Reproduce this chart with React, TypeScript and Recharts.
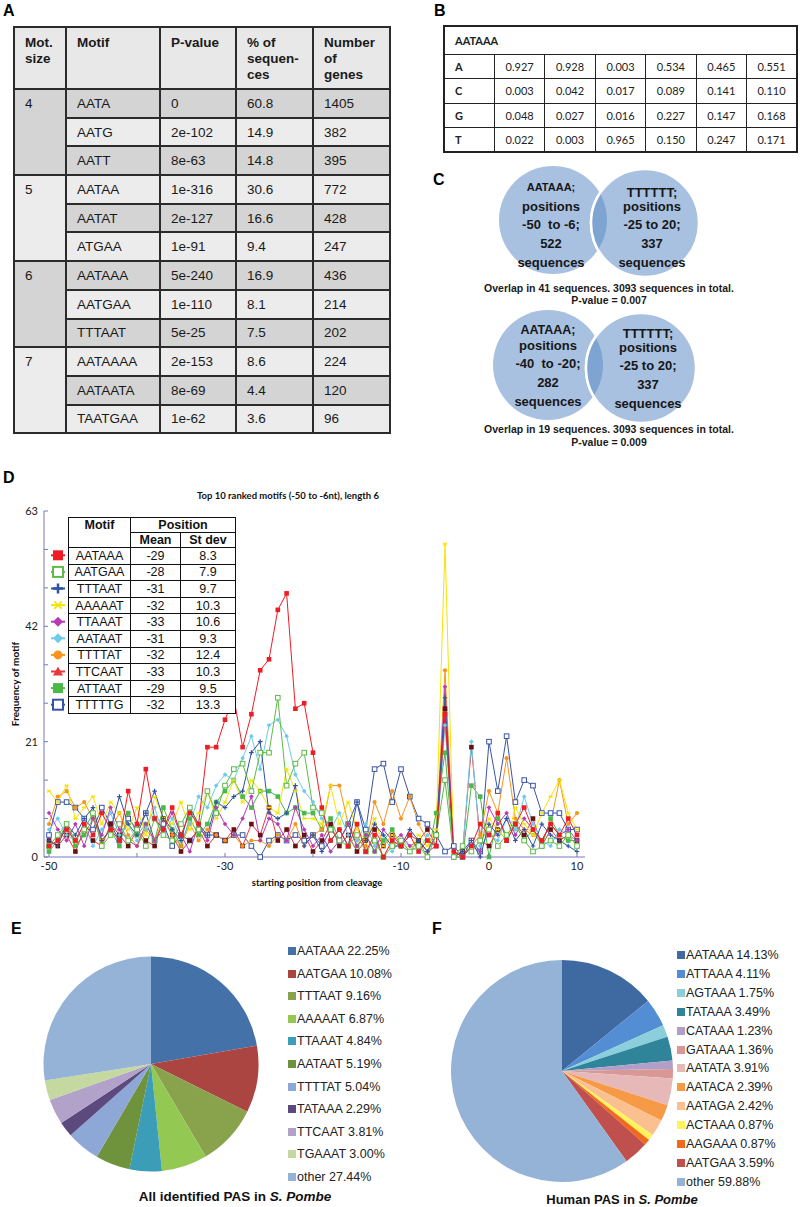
import React from 'react';
import { LineChart, Line, XAxis, YAxis, PieChart, Pie, Cell } from 'recharts';

const ARIAL = '"Liberation Sans", Arial, sans-serif';
const CALIBRI = 'Lato, "Open Sans", sans-serif';
const AXIS = '#7878b8';

// ---------- Panel A: enriched motifs
const motifSizes = ['4', '5', '6', '7'];
const motifs = ['AATA', 'AATG', 'AATT', 'AATAA', 'AATAT', 'ATGAA', 'AATAAA', 'AATGAA', 'TTTAAT', 'AATAAAA', 'AATAATA', 'TAATGAA'];
const pValues = ['0', '2e-102', '8e-63', '1e-316', '2e-127', '1e-91', '5e-240', '1e-110', '5e-25', '2e-153', '8e-69', '1e-62'];
const pctSequences = ['60.8', '14.9', '14.8', '30.6', '16.6', '9.4', '16.9', '8.1', '7.5', '8.6', '4.4', '3.6'];
const geneCounts = ['1405', '382', '395', '772', '428', '247', '436', '214', '202', '224', '120', '96'];

// ---------- Panel B: AATAAA position weight matrix
const pwmMotif = 'AATAAA';
const bases = ['A', 'C', 'G', 'T'];
const pwmA = ['0.927', '0.928', '0.003', '0.534', '0.465', '0.551'];
const pwmC = ['0.003', '0.042', '0.017', '0.089', '0.141', '0.110'];
const pwmG = ['0.048', '0.027', '0.016', '0.227', '0.147', '0.168'];
const pwmT = ['0.022', '0.003', '0.965', '0.150', '0.247', '0.171'];
const pwmRows = [pwmA, pwmC, pwmG, pwmT];

// ---------- Panel C: overlaps
const venn1Left = ['AATAAA;', 'positions', '-50  to -6;', '522', 'sequences'];
const venn1Right = ['TTTTTT;', 'positions', '-25 to 20;', '337', 'sequences'];
const venn1Caption = ['Overlap in 41 sequences. 3093 sequences in total.', 'P-value = 0.007'];
const venn2Left = ['AATAAA;', 'positions', '-40  to -20;', '282', 'sequences'];
const venn2Right = ['TTTTTT;', 'positions', '-25 to 20;', '337', 'sequences'];
const venn2Caption = ['Overlap in 19 sequences. 3093 sequences in total.', 'P-value = 0.009'];

// ---------- Panel D: motif frequency by position
const positions = [
  -50, -49, -48, -47, -46, -45, -44, -43, -42, -41,
  -40, -39, -38, -37, -36, -35, -34, -33, -32, -31,
  -30, -29, -28, -27, -26, -25, -24, -23, -22, -21,
  -20, -19, -18, -17, -16, -15, -14, -13, -12, -11,
  -10, -9, -8, -7, -6, -5, -4, -3, -2, -1,
  0, 1, 2, 3, 4, 5, 6, 7, 8, 9, 10,
];
const aataaa = [
  2, 3, 5, 3, 6, 4, 8, 5, 3, 12,
  6, 16, 7, 5, 9, 4, 8, 6, 20, 20,
  25, 29, 20, 26, 34, 36, 45, 48, 27, 28,
  19, 9, 3, 5, 2, 6, 1, 4, 0, 3,
  2, 4, 1, 3, 2, 26, 1, 0, 2, 6,
  4, 8, 3, 6, 9, 5, 3, 6, 4, 7, 4,
];
const aatgaa = [
  2, 4, 6, 3, 5, 8, 2, 4, 6, 3,
  5, 2, 7, 4, 3, 6, 9, 5, 12, 8,
  13, 16, 17, 12, 19, 19, 29, 13, 17, 19,
  9, 8, 5, 3, 2, 4, 1, 3, 0, 2,
  3, 1, 2, 0, 4, 14, 0, 2, 1, 3,
  5, 2, 4, 6, 3, 1, 2, 3, 2, 4, 2,
];
const tttaat = [
  3, 2, 6, 4, 7, 9, 3, 5, 11, 6,
  4, 8, 12, 7, 5, 3, 9, 6, 4, 10,
  9, 11, 12, 19, 21, 8, 7, 8, 13, 2,
  4, 1, 3, 5, 2, 10, 3, 6, 4, 2,
  2, 5, 3, 1, 4, 29, 0, 1, 3, 0,
  6, 4, 7, 3, 5, 2, 6, 4, 3, 2, 1,
];
const aaaaat = [
  12, 10, 13, 7, 9, 11, 6, 10, 8, 5,
  9, 4, 11, 7, 6, 10, 5, 8, 12, 7,
  10, 14, 10, 14, 12, 9, 8, 16, 12, 7,
  7, 6, 13, 6, 10, 5, 3, 7, 2, 4,
  3, 1, 4, 2, 5, 57, 0, 2, 1, 3,
  7, 5, 3, 9, 6, 4, 8, 11, 14, 8, 5,
];
const ttaaat = [
  8, 5, 3, 6, 2, 7, 4, 9, 5, 3,
  2, 6, 3, 5, 8, 4, 1, 6, 3, 9,
  6, 4, 7, 11, 3, 7, 6, 3, 9, 5,
  2, 4, 1, 3, 6, 2, 4, 1, 5, 3,
  4, 2, 3, 1, 2, 31, 1, 0, 2, 1,
  9, 6, 8, 4, 7, 5, 3, 6, 4, 5, 3,
];
const aataat = [
  5, 7, 4, 3, 6, 2, 5, 8, 4, 6,
  3, 5, 9, 4, 7, 3, 6, 11, 9, 13,
  15, 14, 18, 22, 16, 24, 25, 22, 15, 12,
  10, 7, 5, 8, 4, 3, 6, 2, 4, 1,
  3, 2, 1, 4, 2, 24, 0, 1, 21, 2,
  4, 3, 7, 5, 11, 6, 3, 2, 5, 4, 3,
];
const ttttat = [
  6, 11, 12, 9, 10, 7, 3, 5, 8, 4,
  2, 5, 3, 7, 4, 2, 6, 3, 5, 4,
  3, 4, 2, 3, 3, 2, 4, 3, 6, 2,
  4, 5, 13, 13, 6, 3, 2, 10, 6, 12,
  7, 11, 6, 3, 4, 34, 1, 0, 2, 4,
  12, 8, 18, 7, 5, 4, 3, 6, 14, 6, 8,
];
const ttcaat = [
  3, 2, 4, 1, 5, 3, 2, 6, 4, 2,
  5, 3, 2, 7, 4, 1, 3, 5, 2, 4,
  3, 5, 2, 6, 4, 9, 3, 5, 2, 4,
  1, 3, 6, 2, 4, 1, 3, 5, 2, 4,
  2, 4, 3, 5, 2, 27, 0, 1, 20, 3,
  2, 5, 3, 6, 4, 7, 2, 5, 3, 4, 3,
];
const attaat = [
  1, 3, 6, 2, 4, 7, 3, 5, 2, 8,
  4, 6, 3, 9, 5, 2, 7, 4, 6, 10,
  12, 14, 11, 9, 12, 12, 11, 8, 9, 8,
  8, 5, 7, 3, 6, 2, 4, 1, 3, 5,
  2, 1, 3, 0, 8, 19, 0, 0, 13, 11,
  0, 7, 4, 6, 3, 5, 2, 7, 4, 3, 3,
];
const tttttg = [
  4, 10, 10, 9, 7, 5, 9, 6, 3, 7,
  5, 8, 3, 6, 2, 4, 3, 5, 4, 4,
  3, 4, 4, 2, 0, 3, 4, 3, 4, 3,
  4, 2, 5, 3, 6, 10, 5, 16, 17, 10,
  16, 11, 7, 6, 4, 1, 2, 0, 3, 1,
  21, 12, 22, 10, 14, 13, 8, 8, 8, 5, 5,
];
const motifNames = ['AATAAA', 'AATGAA', 'TTTAAT', 'AAAAAT', 'TTAAAT', 'AATAAT', 'TTTTAT', 'TTCAAT', 'ATTAAT', 'TTTTTG'];
const motifMeans = ['-29', '-28', '-31', '-32', '-33', '-31', '-32', '-33', '-29', '-32'];
const motifSd = ['8.3', '7.9', '9.7', '10.3', '10.6', '9.3', '12.4', '10.3', '9.5', '13.3'];
const motifValues = [aataaa, aatgaa, tttaat, aaaaat, ttaaat, aataat, ttttat, ttcaat, attaat, tttttg];
const xTicks = [-50, -40, -30, -20, -10, 0, 10];
const xTickLabels = [-50, -30, -10, 0, 10];
const yTicks = [0, 7, 14, 21, 28, 35, 42, 49, 56, 63];
const yTickLabels = [0, 21, 42, 63];

type MarkerKind = 'sqFill' | 'sqHollow' | 'plus' | 'star' | 'diamond' | 'circle' | 'tri';
const motifStyles: { color: string; marker: MarkerKind; dotColor?: string; legendMarker?: MarkerKind }[] = [
  { color: '#ee1c25', marker: 'sqFill' },
  { color: '#5fba46', marker: 'sqHollow' },
  { color: '#2f52a0', marker: 'plus' },
  { color: '#f5e400', marker: 'star' },
  { color: '#b83ab5', marker: 'diamond' },
  { color: '#6dcbea', marker: 'diamond' },
  { color: '#f7941d', marker: 'circle' },
  { color: '#e8383d', marker: 'sqFill', dotColor: '#6b1010', legendMarker: 'tri' },
  { color: '#4cb848', marker: 'sqFill' },
  { color: '#3953a4', marker: 'sqHollow' },
];

const chartRows = positions.map((pos, i) => {
  const row: Record<string, number> = { pos };
  motifNames.forEach((m, k) => { row[m] = motifValues[k][i]; });
  return row;
});

// ---------- Panels E and F: PAS shares
const pieELabels = ['AATAAA', 'AATGAA', 'TTTAAT', 'AAAAAT', 'TTAAAT', 'AATAAT', 'TTTTAT', 'TATAAA', 'TTCAAT', 'TGAAAT', 'other'];
const pieEValues = [22.25, 10.08, 9.16, 6.87, 4.84, 5.19, 5.04, 2.29, 3.81, 3.0, 27.44];
const pieEColors = ['#4571a9', '#ab4542', '#88a34c', '#93c953', '#3c9db8', '#6e933c', '#8da8d6', '#5c4a7e', '#b2a2ca', '#c5d8a0', '#95b3d7'];
const pieFLabels = ['AATAAA', 'ATTAAA', 'AGTAAA', 'TATAAA', 'CATAAA', 'GATAAA', 'AATATA', 'AATACA', 'AATAGA', 'ACTAAA', 'AAGAAA', 'AATGAA', 'other'];
const pieFValues = [14.13, 4.11, 1.75, 3.49, 1.23, 1.36, 3.91, 2.39, 2.42, 0.87, 0.87, 3.59, 59.88];
const pieFColors = ['#3e6aa1', '#538ed5', '#8ccfdc', '#2f8499', '#b09fc9', '#d99795', '#e6b8b7', '#f79a47', '#fac090', '#fdf35c', '#f2691e', '#c0504d', '#95b3d7'];

function Marker({ kind, cx, cy, r, color }: { kind: MarkerKind; cx: number; cy: number; r: number; color: string }) {
  switch (kind) {
    case 'sqFill':
      return <rect x={cx - r} y={cy - r} width={2 * r} height={2 * r} fill={color} />;
    case 'sqHollow':
      return <rect x={cx - r} y={cy - r} width={2 * r} height={2 * r} fill="#fff" stroke={color} strokeWidth={Math.max(1, r / 2.5)} />;
    case 'plus':
      return <path d={`M${cx - r},${cy}H${cx + r}M${cx},${cy - r}V${cy + r}`} stroke={color} strokeWidth={Math.max(1.2, r / 2)} />;
    case 'star': {
      const d = r * 0.75;
      return (
        <path
          d={`M${cx - r},${cy}H${cx + r}M${cx - d},${cy - d}L${cx + d},${cy + d}M${cx - d},${cy + d}L${cx + d},${cy - d}`}
          stroke={color}
          strokeWidth={Math.max(1, r / 3)}
        />
      );
    }
    case 'diamond':
      return <polygon points={`${cx},${cy - r} ${cx + r},${cy} ${cx},${cy + r} ${cx - r},${cy}`} fill={color} />;
    case 'circle':
      return <circle cx={cx} cy={cy} r={r * 0.9} fill={color} />;
    case 'tri':
      return <polygon points={`${cx},${cy - r} ${cx + r},${cy + r * 0.8} ${cx - r},${cy + r * 0.8}`} fill={color} />;
  }
  return null;
}

const makeDot = (k: number) => (props: any) => {
  const { cx, cy, index } = props;
  const st = motifStyles[k];
  if (cx == null || cy == null) return <g key={`${k}-${index}`} />;
  return <Marker key={`${k}-${index}`} kind={st.marker} cx={cx} cy={cy} r={2.3} color={st.dotColor ?? st.color} />;
};

const PLOT_LEFT = 44;
const PLOT_BOTTOM = 377;

function XTick(props: any) {
  const { x, y, payload } = props;
  return (
    <g>
      <line x1={x} x2={x} y1={PLOT_BOTTOM} y2={PLOT_BOTTOM - 4} stroke={AXIS} />
      {xTickLabels.includes(payload.value) && (
        <text x={x} y={y + 13} textAnchor="middle" fontSize={11} fontFamily={CALIBRI} fill="#222">
          {payload.value}
        </text>
      )}
    </g>
  );
}

function YTick(props: any) {
  const { y, payload } = props;
  return (
    <g>
      <line x1={PLOT_LEFT} x2={PLOT_LEFT + 4} y1={y} y2={y} stroke={AXIS} />
      {yTickLabels.includes(payload.value) && (
        <text x={PLOT_LEFT - 6} y={y + 4} textAnchor="end" fontSize={11} fontFamily={CALIBRI} fill="#222">
          {payload.value}
        </text>
      )}
    </g>
  );
}

const letterStyle: React.CSSProperties = { position: 'absolute', fontFamily: ARIAL, fontWeight: 'bold', fontSize: 16, lineHeight: '18px' };

function TableA() {
  const dark = '#d4d4d4';
  const light = '#ececec';
  const border = '2px solid #2b2b2b';
  const cell: React.CSSProperties = { border, padding: '0 0 0 10px', textAlign: 'left', verticalAlign: 'middle', whiteSpace: 'nowrap' };
  const head: React.CSSProperties = { ...cell, background: '#e8e8e8', verticalAlign: 'top', paddingTop: 7, lineHeight: '16px' };
  return (
    <table style={{ position: 'absolute', left: 13, top: 26, borderCollapse: 'collapse', tableLayout: 'fixed', width: 376, fontFamily: ARIAL, fontSize: 13.5, color: '#1a1a1a' }}>
      <colgroup>
        <col style={{ width: 52 }} />
        <col style={{ width: 94 }} />
        <col style={{ width: 76 }} />
        <col style={{ width: 77 }} />
        <col style={{ width: 77 }} />
      </colgroup>
      <tbody>
        <tr style={{ height: 62, fontWeight: 'bold' }}>
          <td style={head}>Mot.<br />size</td>
          <td style={head}>Motif</td>
          <td style={head}>P-value</td>
          <td style={head}>% of<br />sequen-<br />ces</td>
          <td style={head}>Number<br />of<br />genes</td>
        </tr>
        {motifs.map((m, i) => {
          const g = Math.floor(i / 3);
          const bg = i % 2 === 0 ? dark : light;
          return (
            <tr key={m} style={{ height: 28.7 }}>
              {i % 3 === 0 && (
                <td rowSpan={3} style={{ ...cell, verticalAlign: 'top', paddingTop: 6, background: g % 2 === 0 ? dark : light }}>
                  {motifSizes[g]}
                </td>
              )}
              <td style={{ ...cell, background: bg }}>{m}</td>
              <td style={{ ...cell, background: bg }}>{pValues[i]}</td>
              <td style={{ ...cell, background: bg }}>{pctSequences[i]}</td>
              <td style={{ ...cell, background: bg }}>{geneCounts[i]}</td>
            </tr>
          );
        })}
      </tbody>
    </table>
  );
}

function TableB() {
  const border = '1.5px solid #222';
  return (
    <table style={{ position: 'absolute', left: 443, top: 25, borderCollapse: 'collapse', tableLayout: 'fixed', width: 355, fontFamily: CALIBRI, fontSize: 11, color: '#222', border: '2px solid #222' }}>
      <tbody>
        <tr style={{ height: 28 }}>
          <td colSpan={7} style={{ border, fontWeight: 'bold', paddingLeft: 10 }}>{pwmMotif}</td>
        </tr>
        {bases.map((b, bi) => (
          <tr key={b} style={{ height: 24.5 }}>
            <td style={{ border, fontWeight: 'bold', paddingLeft: 10 }}>{b}</td>
            {pwmRows[bi].map((v, vi) => (
              <td key={vi} style={{ border, textAlign: 'center' }}>{v}</td>
            ))}
          </tr>
        ))}
      </tbody>
    </table>
  );
}

function Venn({ id, left, right, r, leftLines, rightLines, leftYs, rightYs, leftX, rightX, leftSizes, rightSizes, caption, captionY }: any) {
  const fill = '#a9c1e1';
  return (
    <g>
      <defs>
        <clipPath id={id}>
          <circle cx={left[0]} cy={left[1]} r={r} />
        </clipPath>
      </defs>
      <circle cx={left[0]} cy={left[1]} r={r} fill={fill} />
      {leftLines.map((t: string, i: number) => (
        <text key={i} x={leftX} y={leftYs[i]} textAnchor="middle" dominantBaseline="central" fontFamily={ARIAL} fontWeight="bold" fontSize={leftSizes[i]} fill="#161616" style={{ whiteSpace: 'pre' }}>{t}</text>
      ))}
      <circle cx={right[0]} cy={right[1]} r={r} fill={fill} stroke="#fff" strokeWidth={2.5} />
      <circle cx={right[0]} cy={right[1]} r={r} fill="#7ea5d2" stroke="#fff" strokeWidth={2.5} clipPath={`url(#${id})`} />
      {rightLines.map((t: string, i: number) => (
        <text key={i} x={rightX} y={rightYs[i]} textAnchor="middle" dominantBaseline="central" fontFamily={ARIAL} fontWeight="bold" fontSize={rightSizes[i]} fill="#161616">{t}</text>
      ))}
      {caption.map((t: string, i: number) => (
        <text key={i} x={609} y={captionY[i]} textAnchor="middle" dominantBaseline="central" fontFamily={ARIAL} fontWeight="bold" fontSize={10.5} fill="#1a1a1a">{t}</text>
      ))}
    </g>
  );
}

function MotifLegend() {
  const rowH = 16.6;
  const border = '1.5px solid #111';
  const cell: React.CSSProperties = { border, padding: 0, textAlign: 'center', lineHeight: '14px' };
  return (
    <>
      <table style={{ position: 'absolute', left: 68, top: 517, width: 167, borderCollapse: 'collapse', tableLayout: 'fixed', background: '#fff', fontFamily: ARIAL, fontSize: 12.5, color: '#111' }}>
        <colgroup>
          <col style={{ width: 62 }} />
          <col style={{ width: 50 }} />
          <col style={{ width: 55 }} />
        </colgroup>
        <tbody>
          <tr style={{ height: 15 }}>
            <td rowSpan={2} style={{ ...cell, fontWeight: 'bold', verticalAlign: 'top' }}>Motif</td>
            <td colSpan={2} style={{ ...cell, fontWeight: 'bold' }}>Position</td>
          </tr>
          <tr style={{ height: 15 }}>
            <td style={{ ...cell, fontWeight: 'bold' }}>Mean</td>
            <td style={{ ...cell, fontWeight: 'bold' }}>St dev</td>
          </tr>
          {motifNames.map((m, i) => (
            <tr key={m} style={{ height: rowH }}>
              <td style={cell}>{m}</td>
              <td style={cell}>{motifMeans[i]}</td>
              <td style={cell}>{motifSd[i]}</td>
            </tr>
          ))}
        </tbody>
      </table>
      <svg style={{ position: 'absolute', left: 48, top: 547, overflow: 'visible' }} width={20} height={170}>
        {motifNames.map((m, i) => {
          const st = motifStyles[i];
          const cy = rowH * (i + 0.5);
          return (
            <g key={m}>
              <line x1={3} x2={17} y1={cy} y2={cy} stroke={st.color} strokeWidth={2} />
              <Marker kind={st.legendMarker ?? st.marker} cx={10} cy={cy} r={5} color={st.color} />
            </g>
          );
        })}
      </svg>
    </>
  );
}

function PieLegend({ labels, values, colors, left, top, gap }: any) {
  return (
    <>
      {labels.map((l: string, i: number) => (
        <div key={l} style={{ position: 'absolute', left, top: top + gap * i - 8, height: 16, display: 'flex', alignItems: 'center', fontFamily: ARIAL, fontSize: 12.5, color: '#222', whiteSpace: 'nowrap' }}>
          <span style={{ display: 'inline-block', width: 8, height: 8, background: colors[i], marginRight: 1 }} />
          {l} {values[i].toFixed(2)}%
        </div>
      ))}
    </>
  );
}

export default function App() {
  const pieEData = pieELabels.map((name, i) => ({ name, value: pieEValues[i] }));
  const pieFData = pieFLabels.map((name, i) => ({ name, value: pieFValues[i] }));
  return (
    <div style={{ position: 'absolute', left: 0, top: 0, width: 800, height: 1207, background: '#fff', fontFamily: ARIAL, overflow: 'hidden' }}>
      <div style={{ ...letterStyle, left: 3, top: 2 }}>A</div>
      <TableA />
      <div style={{ ...letterStyle, left: 434, top: 2 }}>B</div>
      <TableB />
      <div style={{ ...letterStyle, left: 433, top: 171 }}>C</div>
      <svg style={{ position: 'absolute', left: 0, top: 0 }} width={800} height={460}>
        <Venn
          id="v1" left={[553, 220]} right={[645, 223]} r={54}
          leftLines={venn1Left} rightLines={venn1Right}
          leftX={551} rightX={652}
          leftYs={[187, 206, 224, 243, 262]} rightYs={[192, 206, 224, 243, 262]}
          leftSizes={[11, 13, 13, 13, 13]} rightSizes={[13, 13, 13, 13, 13]}
          caption={venn1Caption} captionY={[288, 300]}
        />
        <Venn
          id="v2" left={[548, 365]} right={[641, 368]} r={55}
          leftLines={venn2Left} rightLines={venn2Right}
          leftX={548} rightX={648}
          leftYs={[330, 345, 363, 382, 401]} rightYs={[333, 347, 365, 384, 403]}
          leftSizes={[12.5, 13, 13, 13, 13]} rightSizes={[13, 13, 13, 13, 13]}
          caption={venn2Caption} captionY={[429, 442]}
        />
      </svg>

      <div style={{ ...letterStyle, left: 3, top: 469 }}>D</div>
      <div style={{ position: 'absolute', left: 138, top: 490, width: 300, textAlign: 'center', fontFamily: CALIBRI, fontWeight: 'bold', fontSize: 9.5, color: '#111' }}>
        Top 10 ranked motifs (-50 to -6nt), length 6
      </div>
      <div style={{ position: 'absolute', left: 0, top: 480 }}>
        <LineChart width={600} height={420} data={chartRows} margin={{ top: 31, right: 15, bottom: 23, left: 0 }}>
          <XAxis
            dataKey="pos" type="number" domain={[-50, 10]} ticks={xTicks} interval={0}
            padding={{ left: 5, right: 8 }} height={20} tickSize={0} tickMargin={0}
            tickLine={false} axisLine={{ stroke: AXIS }} tick={<XTick />}
          />
          <XAxis xAxisId="top" orientation="top" dataKey="pos" type="number" domain={[-50, 10]} height={0} tick={false} tickLine={false} axisLine={{ stroke: AXIS }} />
          <YAxis
            type="number" domain={[0, 63]} ticks={yTicks} interval={0} width={44}
            tickSize={0} tickMargin={0} tickLine={false} axisLine={{ stroke: AXIS }} tick={<YTick />}
          />
          <YAxis yAxisId="right" orientation="right" type="number" domain={[0, 63]} width={0} tick={false} tickLine={false} axisLine={{ stroke: AXIS }} />
          {motifNames.map((_, k) => motifNames.length - 1 - k).map((k) => (
            <Line
              key={motifNames[k]}
              dataKey={motifNames[k]}
              stroke={motifStyles[k].color}
              strokeWidth={1}
              dot={makeDot(k)}
              activeDot={false}
              isAnimationActive={false}
            />
          ))}
        </LineChart>
      </div>
      <MotifLegend />
      <div style={{ position: 'absolute', left: 15, top: 684, transform: 'translate(-50%, -50%) rotate(-90deg)', fontFamily: CALIBRI, fontWeight: 'bold', fontSize: 10, whiteSpace: 'nowrap', color: '#111' }}>
        Frequency of motif
      </div>
      <div style={{ position: 'absolute', left: 167, top: 877, width: 300, textAlign: 'center', fontFamily: CALIBRI, fontWeight: 'bold', fontSize: 9.5, color: '#111' }}>
        starting position from cleavage
      </div>

      <div style={{ ...letterStyle, left: 11, top: 920 }}>E</div>
      <div style={{ position: 'absolute', left: 43, top: 956 }}>
        <PieChart width={216} height={216} margin={{ top: 0, right: 0, bottom: 0, left: 0 }}>
          <Pie data={pieEData} dataKey="value" cx={108} cy={108} outerRadius={107.5} startAngle={90} endAngle={-270} stroke="none" isAnimationActive={false}>
            {pieEData.map((d, i) => <Cell key={d.name} fill={pieEColors[i]} />)}
          </Pie>
        </PieChart>
      </div>
      <PieLegend labels={pieELabels} values={pieEValues} colors={pieEColors} left={288} top={951} gap={22.6} />
      <div style={{ position: 'absolute', left: 35, top: 1189, width: 400, textAlign: 'center', fontFamily: ARIAL, fontWeight: 'bold', fontSize: 13.5, color: '#111' }}>
        All identified PAS in <i>S. Pombe</i>
      </div>

      <div style={{ ...letterStyle, left: 432, top: 920 }}>F</div>
      <div style={{ position: 'absolute', left: 451, top: 960 }}>
        <PieChart width={222} height={222} margin={{ top: 0, right: 0, bottom: 0, left: 0 }}>
          <Pie data={pieFData} dataKey="value" cx={111} cy={111} outerRadius={111} startAngle={90} endAngle={-270} stroke="none" isAnimationActive={false}>
            {pieFData.map((d, i) => <Cell key={d.name} fill={pieFColors[i]} />)}
          </Pie>
        </PieChart>
      </div>
      <PieLegend labels={pieFLabels} values={pieFValues} colors={pieFColors} left={677} top={955} gap={18.9} />
      <div style={{ position: 'absolute', left: 472, top: 1192, width: 300, textAlign: 'center', fontFamily: ARIAL, fontWeight: 'bold', fontSize: 13, lineHeight: '15px', color: '#111' }}>
        Human PAS in <i>S. Pombe</i>
      </div>
    </div>
  );
}
